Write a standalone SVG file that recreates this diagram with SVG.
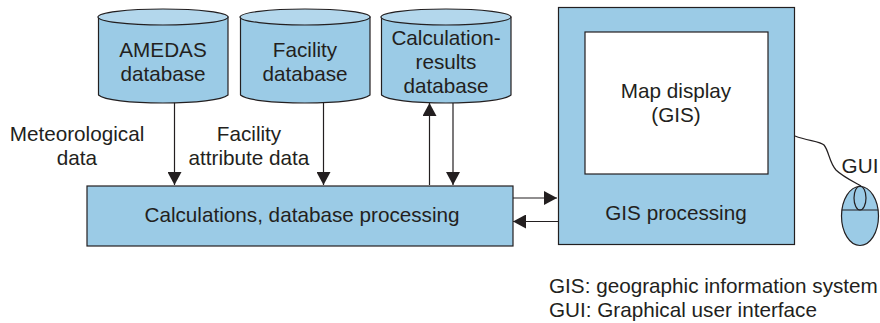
<svg xmlns="http://www.w3.org/2000/svg" width="880" height="323" viewBox="0 0 880 323">
<style>
text{font-family:"Liberation Sans",Arial,sans-serif;font-size:20.700px;fill:#231f20;text-anchor:middle}
.b{fill:#9bcbe6;stroke:#231f20;stroke-width:1.2}
.t{fill:#b3d7ec;stroke:#231f20;stroke-width:1.2}
.c{fill:none;stroke:#231f20;stroke-width:1.2}
</style>
<defs><marker id="a" markerUnits="userSpaceOnUse" markerWidth="14" markerHeight="14" refX="13" refY="7" orient="auto"><path d="M0 0L13 7L0 14Z" fill="#231f20"/></marker></defs>
<rect width="880" height="323" fill="#fff"/>
<g id="connectors">
<path class="c" d="M174.500 102V185" marker-end="url(#a)"/>
<path class="c" d="M323.500 102V185" marker-end="url(#a)"/>
<path class="c" d="M429.500 185V103" marker-end="url(#a)"/>
<path class="c" d="M453 103V185" marker-end="url(#a)"/>
<path class="c" d="M513 198H557" marker-end="url(#a)"/>
<path class="c" d="M558 221.500H513" marker-end="url(#a)"/>
<path class="c" d="M795 136C808 141 820 141 824 145C829 151 829 162 836 170C842 176 852 181 861 186"/>
</g>
<g id="amedas"><path class="b" d="M98.500 17V95C104 100 130 103 163 103C196 103 222 100 228 95V17Z"/><ellipse class="t" cx="163" cy="17" rx="65" ry="8"/><text x="163" y="57">AMEDAS</text><text x="163" y="81">database</text></g>
<g id="facility"><path class="b" d="M240.500 17V95C246 100 272 103 305 103C338 103 364 100 370 95V17Z"/><ellipse class="t" cx="305" cy="17" rx="65" ry="8"/><text x="305" y="57">Facility</text><text x="305" y="81">database</text></g>
<g id="results"><path class="b" d="M381.500 17V95C387 100 413 103 446 103C479 103 505 100 511 95V17Z"/><ellipse class="t" cx="446" cy="17" rx="65" ry="8"/><text x="446" y="45">Calculation-</text><text x="446" y="69">results</text><text x="446" y="93">database</text></g>
<g id="calc"><rect class="b" x="87" y="186" width="426" height="60"/><text x="302" y="222">Calculations, database processing</text></g>
<g id="gis"><rect class="b" x="558.500" y="7.500" width="236" height="237"/><rect x="585" y="32" width="183" height="142" fill="#fff" stroke="#231f20" stroke-width="1.200"/><text x="676" y="98">Map display</text><text x="676" y="122">(GIS)</text><text x="676" y="220">GIS processing</text></g>
<g id="mouse"><ellipse class="b" cx="860" cy="216" rx="18.500" ry="29.500"/><path class="c" d="M842 210H878"/><ellipse class="c" cx="860" cy="198" rx="6" ry="12"/></g>
<g id="labels">
<text x="77" y="141">Meteorological</text><text x="77" y="165">data</text>
<text x="249" y="141">Facility</text><text x="249" y="165">attribute data</text>
<text x="860" y="173">GUI</text>
<text x="549" y="293" style="text-anchor:start">GIS: geographic information system</text>
<text x="549" y="317" style="text-anchor:start">GUI: Graphical user interface</text>
</g>
</svg>
